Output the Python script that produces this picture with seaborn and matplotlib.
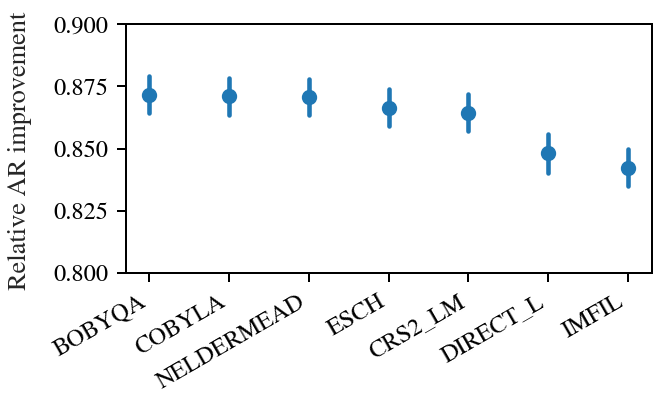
import matplotlib
matplotlib.use("Agg")
import matplotlib.pyplot as plt
import seaborn as sns
import pandas as pd

methods = ["BOBYQA", "COBYLA", "NELDERMEAD", "ESCH", "CRS2_LM", "DIRECT_L", "IMFIL"]
means = [0.8717, 0.8710, 0.8707, 0.8664, 0.8645, 0.8481, 0.8424]
errs = [0.0075, 0.0073, 0.0073, 0.0075, 0.0075, 0.0078, 0.0075]
yticks = [0.800, 0.825, 0.850, 0.875, 0.900]

sns.set_theme(style="ticks")
plt.rcParams["font.family"] = ["STIXGeneral", "Liberation Serif", "DejaVu Serif"]
plt.rcParams["mathtext.fontset"] = "stix"
plt.rcParams["axes.edgecolor"] = "black"
plt.rcParams["xtick.color"] = "black"
plt.rcParams["ytick.color"] = "black"
plt.rcParams["axes.linewidth"] = 1.44
plt.rcParams["xtick.major.width"] = 1.44
plt.rcParams["ytick.major.width"] = 1.44
plt.rcParams["xtick.major.size"] = 6.3
plt.rcParams["ytick.major.size"] = 6.3
plt.rcParams["xtick.major.pad"] = 6.3
plt.rcParams["ytick.major.pad"] = 6.3

# Two rows per method (lower and upper bound) -> interval from min to max, mean in centre
rows = []
for m, mu, e in zip(methods, means, errs):
    rows.append({"method": m, "value": mu - e})
    rows.append({"method": m, "value": mu + e})
df = pd.DataFrame(rows)

fig = plt.figure(figsize=(6.54, 4.01), dpi=100)
ax = fig.add_axes([0.192, 0.3185, 0.8045, 0.6215])

sns.pointplot(data=df, x="method", y="value", order=methods,
              estimator="mean", errorbar=("pi", 100),
              linestyle="none", color="#1f77b4",
              markersize=9, err_kws={"linewidth": 3.3}, ax=ax)

ax.set_xlim(-0.3, len(methods) - 1 + 0.3)
ax.set_ylim(0.8, 0.9)
ax.set_yticks(yticks)
ax.set_yticklabels([f"{t:.3f}" for t in yticks], fontsize=17.5)
ax.set_xticks(range(len(methods)))
ax.set_xticklabels(methods, rotation=30, ha="right", fontsize=17.5)
ax.set_xlabel("")
ax.set_ylabel("Relative AR improvement", fontsize=19)
ax.yaxis.set_label_coords(-0.178, 0.49)
for s in ax.spines.values():
    s.set_visible(True)

fig.savefig("out.png", dpi=100)
